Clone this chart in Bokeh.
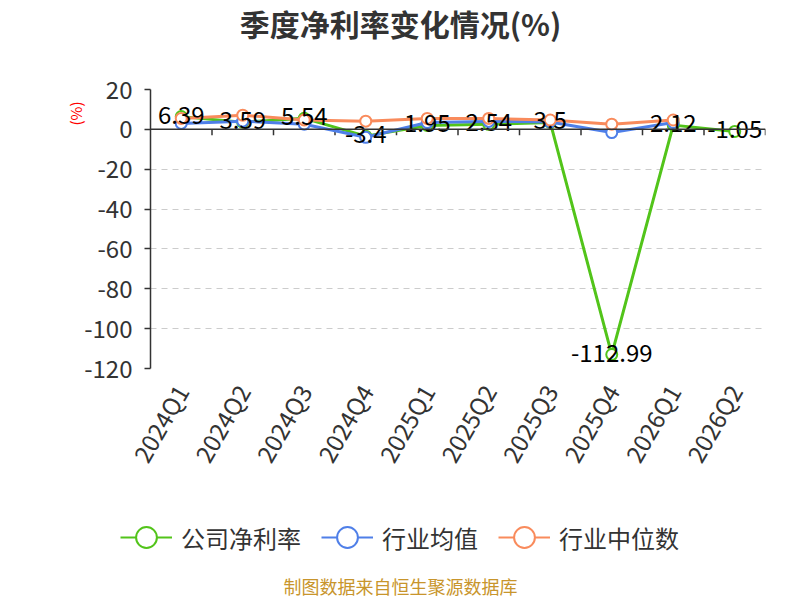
import math
from bokeh.plotting import figure
from bokeh.layouts import column, row
from bokeh.models import (ColumnDataSource, FactorRange, Range1d, FixedTicker, Span,
                          Legend, LegendItem, Title, Label)
from bokeh.transform import dodge
from bokeh.core.properties import value
from bokeh.embed import file_html
from bokeh.resources import INLINE

# ---- data ----
categories = ["2024Q1", "2024Q2", "2024Q3", "2024Q4", "2025Q1",
              "2025Q2", "2025Q3", "2025Q4", "2026Q1", "2026Q2"]
company = [6.39, 3.59, 5.54, -3.4, 1.95, 2.54, 3.5, -112.99, 2.12, -1.05]
industry_avg = [3.0, 4.1, 2.6, -4.0, 3.4, 4.0, 3.7, -1.6, 3.4]
industry_median = [5.5, 7.1, 4.7, 4.1, 5.5, 5.5, 4.7, 2.6, 4.7]
y_ticks = [-120, -100, -80, -60, -40, -20, 0, 20]
series_names = ["公司净利率", "行业均值", "行业中位数"]
title_text = "季度净利率变化情况(%)"
footer_text = "制图数据来自恒生聚源数据库"

FONT = "Noto Sans CJK SC"
GREEN = "#52c41a"
BLUE = "#4f7fe8"
ORANGE = "#f98b5c"


def blank_figure(h):
    f = figure(width=800, height=h, x_range=Range1d(0, 800), y_range=Range1d(0, h),
               x_axis_type=None, y_axis_type=None, output_backend="svg",
               toolbar_location=None, min_border=0)
    f.grid.visible = False
    f.outline_line_color = None
    return f


# ---- title strip ----
top = blank_figure(44)
top.add_layout(Label(x=400, y=22, x_units="screen", y_units="screen", text=title_text,
                     text_align="center", text_baseline="middle", text_font_size="30px",
                     text_font_style="bold", text_font=FONT, text_color="#333333"))

# ---- main chart ----
p = figure(width=800, height=436, x_range=FactorRange(*categories),
           y_range=Range1d(-120, 20), output_backend="svg", toolbar_location=None,
           min_border_left=150, min_border_right=35, min_border_top=45,
           min_border_bottom=105)
p.outline_line_color = None
p.background_fill_color = "white"

p.yaxis.ticker = FixedTicker(ticks=y_ticks)
p.yaxis.major_label_overrides = {t: str(t) for t in y_ticks}
p.yaxis.axis_line_color = "#333333"
p.yaxis.axis_line_width = 1.5
p.yaxis.major_tick_line_color = "#333333"
p.yaxis.major_tick_line_width = 1.5
p.yaxis.major_tick_in = 0
p.yaxis.major_tick_out = 6
p.yaxis.minor_tick_line_color = None
p.yaxis.major_label_standoff = 12
p.yaxis.major_label_text_font_size = "24px"
p.yaxis.major_label_text_font = FONT
p.yaxis.major_label_text_color = "#333333"

p.xaxis.axis_line_color = None
p.xaxis.major_tick_line_color = None
p.xaxis.minor_tick_line_color = None
p.xaxis.major_label_orientation = math.pi / 3
p.xaxis.major_label_standoff = 12
p.xaxis.major_label_text_font_size = "24px"
p.xaxis.major_label_text_font = FONT
p.xaxis.major_label_text_color = "#333333"

p.xgrid.visible = False
p.ygrid.grid_line_color = "#cccccc"
p.ygrid.grid_line_dash = "6 5"
p.ygrid.grid_line_width = 1

# y-axis name
yname = Title(text="(%)", align="right", offset=12, text_font_size="15px",
              text_font=FONT, text_color="#ff0000", text_font_style="normal")
if "standoff" in yname.properties():
    yname.standoff = -8
p.add_layout(yname, "left")

# zero axis line and boundary ticks
p.add_layout(Span(location=0, dimension="width", line_color="#333333", line_width=1.5))
tick_src = ColumnDataSource(dict(cat=categories, y=[0] * len(categories)))
p.ray(x=dodge("cat", 0.5, range=p.x_range), y="y", length=6, length_units="screen",
      angle=-math.pi / 2, line_color="#333333", line_width=1.5, source=tick_src)

# series
src_c = ColumnDataSource(dict(cat=categories, v=company,
                              lbl=[f"{v:g}" for v in company]))
src_a = ColumnDataSource(dict(cat=categories[:len(industry_avg)], v=industry_avg))
src_m = ColumnDataSource(dict(cat=categories[:len(industry_median)], v=industry_median))

for src, col in [(src_c, GREEN), (src_a, BLUE), (src_m, ORANGE)]:
    p.line("cat", "v", source=src, line_color=col, line_width=3)
    p.scatter("cat", "v", source=src, size=11, marker="circle", fill_color="white",
              line_color=col, line_width=2)

p.text(x="cat", y="v", text="lbl", source=src_c, text_align="center",
       text_baseline="middle", y_offset=-2, text_font_size="24px",
       text_font=value(FONT), text_color="#000000")

# ---- legend + footer strip ----
bot = blank_figure(120)
items = []
for name, col, series in zip(series_names, [GREEN, BLUE, ORANGE],
                             [company, industry_avg, industry_median]):
    hidden = ColumnDataSource(dict(x=list(range(len(series))), y=series))
    r1 = bot.line("x", "y", source=hidden, line_color=col, line_width=2, visible=False)
    r2 = bot.scatter("x", "y", source=hidden, size=21, marker="circle",
                     fill_color="white", line_color=col, line_width=2, visible=False)
    items.append(LegendItem(label=name, renderers=[r1, r2]))
legend = Legend(items=items, location=(120, 35), orientation="horizontal",
                glyph_width=52, glyph_height=56, label_standoff=9, spacing=20,
                padding=0, margin=0, border_line_color=None, background_fill_alpha=0,
                label_text_font_size="24px", label_text_font=FONT,
                label_text_color="#333333", label_height=24,
                inactive_fill_alpha=0)
bot.add_layout(legend, "center")
bot.add_layout(Label(x=400, y=15, x_units="screen", y_units="screen", text=footer_text,
                     text_align="center", text_baseline="middle", text_font_size="18px",
                     text_font=FONT, text_color="#c8952c"))

layout = column(row(top), p, row(bot), spacing=0)
open("out.html", "w").write(file_html(layout, INLINE))
